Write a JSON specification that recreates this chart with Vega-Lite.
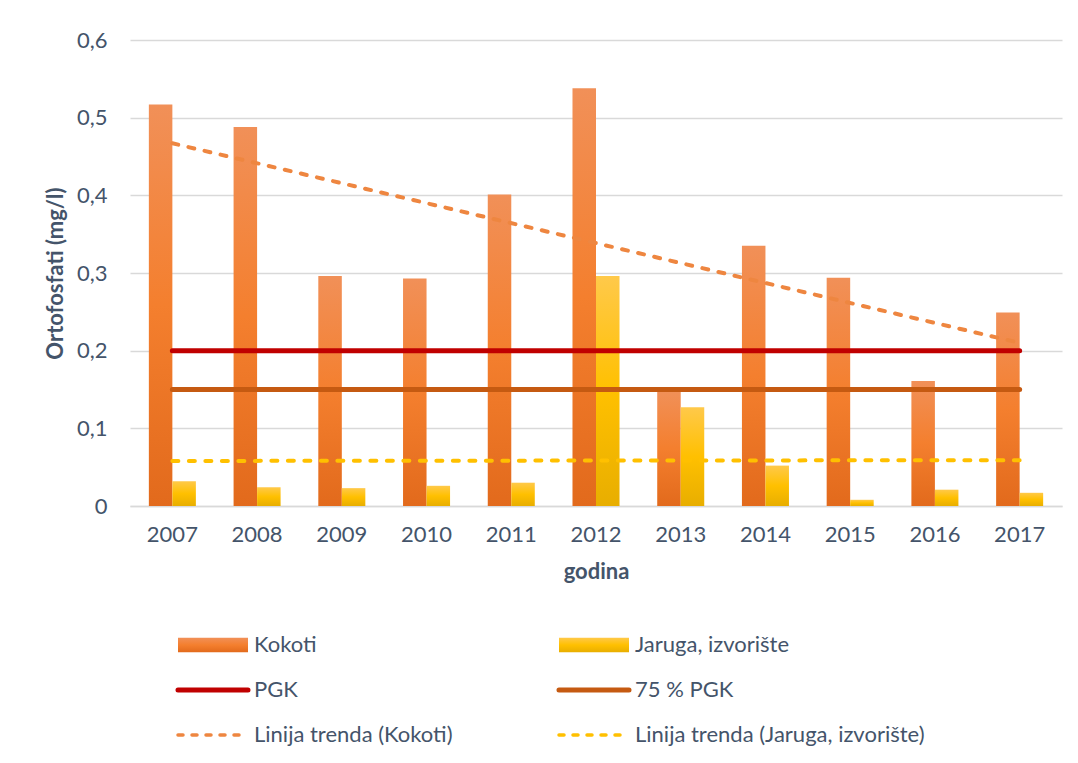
{
  "$schema": "https://vega.github.io/schema/vega-lite/v6.json",
  "width": 932,
  "height": 466,
  "autosize": {"type": "none"},
  "padding": {"left": 130, "top": 40, "right": 16, "bottom": 257},
  "background": "white",
  "datasets": {
    "bars": [
      {"year": "2007", "series": "Kokoti", "value": 0.517},
      {"year": "2008", "series": "Kokoti", "value": 0.488},
      {"year": "2009", "series": "Kokoti", "value": 0.296},
      {"year": "2010", "series": "Kokoti", "value": 0.293},
      {"year": "2011", "series": "Kokoti", "value": 0.401},
      {"year": "2012", "series": "Kokoti", "value": 0.538},
      {"year": "2013", "series": "Kokoti", "value": 0.148},
      {"year": "2014", "series": "Kokoti", "value": 0.335},
      {"year": "2015", "series": "Kokoti", "value": 0.294},
      {"year": "2016", "series": "Kokoti", "value": 0.161},
      {"year": "2017", "series": "Kokoti", "value": 0.249},
      {"year": "2007", "series": "Jaruga, izvorište", "value": 0.032},
      {"year": "2008", "series": "Jaruga, izvorište", "value": 0.024},
      {"year": "2009", "series": "Jaruga, izvorište", "value": 0.023},
      {"year": "2010", "series": "Jaruga, izvorište", "value": 0.026},
      {"year": "2011", "series": "Jaruga, izvorište", "value": 0.030},
      {"year": "2012", "series": "Jaruga, izvorište", "value": 0.296},
      {"year": "2013", "series": "Jaruga, izvorište", "value": 0.127},
      {"year": "2014", "series": "Jaruga, izvorište", "value": 0.052},
      {"year": "2015", "series": "Jaruga, izvorište", "value": 0.008},
      {"year": "2016", "series": "Jaruga, izvorište", "value": 0.021},
      {"year": "2017", "series": "Jaruga, izvorište", "value": 0.017}
    ],
    "limits": [
      {"year": "2007", "series": "PGK", "value": 0.2},
      {"year": "2017", "series": "PGK", "value": 0.2},
      {"year": "2007", "series": "75 % PGK", "value": 0.15},
      {"year": "2017", "series": "75 % PGK", "value": 0.15}
    ],
    "trends": [
      {"year": "2007", "series": "Linija trenda (Kokoti)", "value": 0.467},
      {"year": "2017", "series": "Linija trenda (Kokoti)", "value": 0.21},
      {"year": "2007", "series": "Linija trenda (Jaruga, izvorište)", "value": 0.058},
      {"year": "2017", "series": "Linija trenda (Jaruga, izvorište)", "value": 0.059}
    ]
  },
  "config": {
    "font": "Lato",
    "view": {"stroke": null},
    "axis": {
      "labelFont": "Lato",
      "labelFontSize": 22,
      "labelColor": "#44546A",
      "titleFont": "Lato",
      "titleFontSize": 22,
      "titleFontWeight": "bold",
      "titleColor": "#44546A",
      "ticks": false
    },
    "legend": {
      "labelFont": "Lato",
      "labelFontSize": 22,
      "labelColor": "#44546A"
    }
  },
  "encoding": {
    "x": {
      "field": "year",
      "type": "ordinal",
      "scale": {"paddingInner": 0.445, "paddingOuter": 0.2225},
      "axis": {
        "title": "godina",
        "labelAngle": 0,
        "labelPadding": 18,
        "titlePadding": 16,
        "domain": true,
        "domainColor": "#D9D9D9",
        "domainWidth": 1.5,
        "grid": false
      }
    },
    "y": {
      "field": "value",
      "type": "quantitative",
      "scale": {"domain": [0, 0.6], "nice": false},
      "axis": {
        "title": "Ortofosfati (mg/l)",
        "values": [0, 0.1, 0.2, 0.3, 0.4, 0.5, 0.6],
        "labelExpr": "replace(format(datum.value, '.1~f'), '.', ',')",
        "labelPadding": 23,
        "titlePadding": 9,
        "domain": false,
        "grid": true,
        "gridColor": "#D9D9D9",
        "gridWidth": 1.5
      }
    }
  },
  "layer": [
    {
      "data": {"name": "bars"},
      "transform": [{"filter": "datum.series === 'Kokoti'"}],
      "mark": {
        "type": "bar",
        "color": {
          "gradient": "linear",
          "x1": 0, "y1": 0, "x2": 0, "y2": 1,
          "stops": [
            {"offset": 0, "color": "#F19058"},
            {"offset": 0.5, "color": "#F47F2E"},
            {"offset": 1, "color": "#E26A1C"}
          ]
        }
      },
      "encoding": {
        "xOffset": {
          "field": "series",
          "type": "nominal",
          "scale": {"domain": ["Kokoti", "Jaruga, izvorište"], "paddingInner": 0, "paddingOuter": 0}
        }
      }
    },
    {
      "data": {"name": "bars"},
      "transform": [{"filter": "datum.series === 'Jaruga, izvorište'"}],
      "mark": {
        "type": "bar",
        "color": {
          "gradient": "linear",
          "x1": 0, "y1": 0, "x2": 0, "y2": 1,
          "stops": [
            {"offset": 0, "color": "#FFC94A"},
            {"offset": 0.5, "color": "#FFC000"},
            {"offset": 1, "color": "#E8AE00"}
          ]
        }
      },
      "encoding": {
        "xOffset": {
          "field": "series",
          "type": "nominal",
          "scale": {"domain": ["Kokoti", "Jaruga, izvorište"], "paddingInner": 0, "paddingOuter": 0}
        }
      }
    },
    {
      "data": {"name": "limits"},
      "mark": {"type": "line", "strokeWidth": 5, "strokeCap": "round"},
      "encoding": {
        "color": {
          "field": "series",
          "type": "nominal",
          "sort": null,
          "scale": {
            "domain": ["Kokoti", "Jaruga, izvorište", "PGK", "75 % PGK", "Linija trenda (Kokoti)", "Linija trenda (Jaruga, izvorište)"],
            "range": ["#F47F2E", "#FFC000", "#C00000", "#C55A11", "#EE8640", "#FFC000"]
          },
          "legend": {
            "title": null,
            "orient": "none",
            "legendX": 47,
            "legendY": 594,
            "direction": "horizontal",
            "columns": 2,
            "columnPadding": 96,
            "rowPadding": 23,
            "padding": 0,
            "symbolSize": 4900,
            "symbolOffset": 25,
            "labelOffset": 30,
            "labelLimit": 400,
            "encode": {
              "symbols": {
                "update": {
                  "shape": {"signal": "datum.value === 'Kokoti' || datum.value === 'Jaruga, izvorište' ? 'M-1,-0.21H1V0.21H-1Z' : 'stroke'"},
                  "fill": {"signal": "datum.value === 'Kokoti' ? {gradient: 'linear', x1: 0, y1: 0, x2: 0, y2: 1, stops: [{offset: 0, color: '#F19058'}, {offset: 0.5, color: '#F47F2E'}, {offset: 1, color: '#E26A1C'}]} : datum.value === 'Jaruga, izvorište' ? {gradient: 'linear', x1: 0, y1: 0, x2: 0, y2: 1, stops: [{offset: 0, color: '#FFC94A'}, {offset: 0.5, color: '#FFC000'}, {offset: 1, color: '#E8AE00'}]} : 'transparent'"},
                  "strokeWidth": {"signal": "datum.value === 'Kokoti' || datum.value === 'Jaruga, izvorište' ? 0 : (datum.value === 'PGK' || datum.value === '75 % PGK' ? 5 : 3.5)"},
                  "strokeDash": {"signal": "indexof(datum.value, 'Linija') === 0 ? [5, 9] : [1, 0]"},
                  "strokeCap": {"value": "round"},
                  "opacity": {"value": 1}
                }
              }
            }
          }
        }
      }
    },
    {
      "data": {"name": "trends"},
      "mark": {"type": "line", "strokeWidth": 4, "strokeCap": "round", "strokeDash": [6, 10.5]},
      "encoding": {
        "color": {"field": "series", "type": "nominal", "sort": null}
      }
    }
  ]
}
